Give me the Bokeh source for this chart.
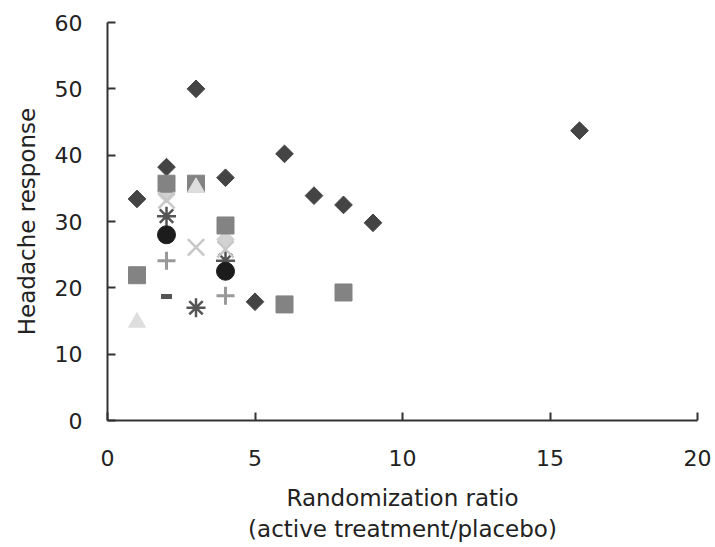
import numpy as np
from bokeh.plotting import figure
from bokeh.models import Range1d, FixedTicker
from bokeh.embed import file_html
from bokeh.resources import INLINE

# ---- data ----
dk_diamond_x = [1, 2, 3, 4, 5, 6, 7, 8, 9, 16]
dk_diamond_y = [33.4, 38.2, 50.0, 36.6, 17.9, 40.2, 33.9, 32.5, 29.8, 43.7]

square_x = [1, 2, 3, 4, 6, 8]
square_y = [21.9, 35.7, 35.7, 29.4, 17.5, 19.3]

triangle_x = [1, 3]
triangle_y = [14.8, 35.1]

lt_diamond_x = [2, 4]
lt_diamond_y = [34.1, 27.3]

xmark_x = [2, 3, 4]
xmark_y = [33.2, 26.1, 25.8]

asterisk_x = [2, 3, 4]
asterisk_y = [30.8, 17.0, 24.1]

circle_x = [2, 4]
circle_y = [28.0, 22.5]

plus_x = [2, 4]
plus_y = [24.1, 18.8]

dash_x = [2]
dash_y = [18.7]

x_ticks = [0, 5, 10, 15, 20]
y_ticks = [0, 10, 20, 30, 40, 50, 60]

FONT = "DejaVu Sans"
TXT = "#222222"

p = figure(width=715, height=547, output_backend="svg", toolbar_location=None,
           x_range=Range1d(0, 20), y_range=Range1d(0, 60),
           min_border_left=107, min_border_right=18,
           min_border_top=22, min_border_bottom=127)
p.outline_line_color = None
p.xgrid.visible = False
p.ygrid.visible = False
p.background_fill_color = "white"
p.border_fill_color = "white"

for ax in (p.xaxis[0], p.yaxis[0]):
    ax.axis_line_color = "#333333"
    ax.axis_line_width = 2
    ax.major_tick_line_color = "#333333"
    ax.major_tick_line_width = 2
    ax.major_tick_in = 8
    ax.major_tick_out = 0
    ax.minor_tick_line_color = None
    ax.major_label_text_font = FONT
    ax.major_label_text_font_size = "22px"
    ax.major_label_text_color = TXT
    ax.axis_label_text_font = FONT
    ax.axis_label_text_font_size = "23px"
    ax.axis_label_text_font_style = "normal"
    ax.axis_label_text_color = TXT

p.xaxis.ticker = FixedTicker(ticks=x_ticks)
p.yaxis.ticker = FixedTicker(ticks=y_ticks)
p.xaxis.major_label_standoff = 29
p.yaxis.major_label_standoff = 25
p.xaxis.axis_label = "Randomization ratio\n(active treatment/placebo)"
p.yaxis.axis_label = "Headache response"
p.xaxis.axis_label_standoff = 16
p.yaxis.axis_label_standoff = 12

# ---- markers ----
p.scatter(lt_diamond_x, lt_diamond_y, marker="square", angle=np.pi / 4, size=12.5,
          fill_color="#d2d2d2", line_color="#d2d2d2")
p.scatter(dk_diamond_x, dk_diamond_y, marker="square", angle=np.pi / 4, size=12.5,
          fill_color="#444444", line_color="#444444")
p.scatter(asterisk_x, asterisk_y, marker="asterisk", size=19,
          line_color="#555555", line_width=2.5)
p.scatter(circle_x, circle_y, marker="circle", size=18,
          fill_color="#1c1c1c", line_color="#1c1c1c")
p.scatter(square_x, square_y, marker="square", size=17,
          fill_color="#838383", line_color="#838383")
p.scatter(triangle_x, triangle_y, marker="triangle", size=17,
          fill_color="#dedede", line_color="#dedede")
p.scatter(xmark_x, xmark_y, marker="x", size=23,
          line_color="#c8c8c8", line_width=2.5)
p.scatter(plus_x, plus_y, marker="cross", size=18,
          line_color="#999999", line_width=3)
p.scatter(dash_x, dash_y, marker="dash", size=11,
          line_color="#555555", line_width=5)

open("out.html", "w").write(file_html(p, INLINE))
